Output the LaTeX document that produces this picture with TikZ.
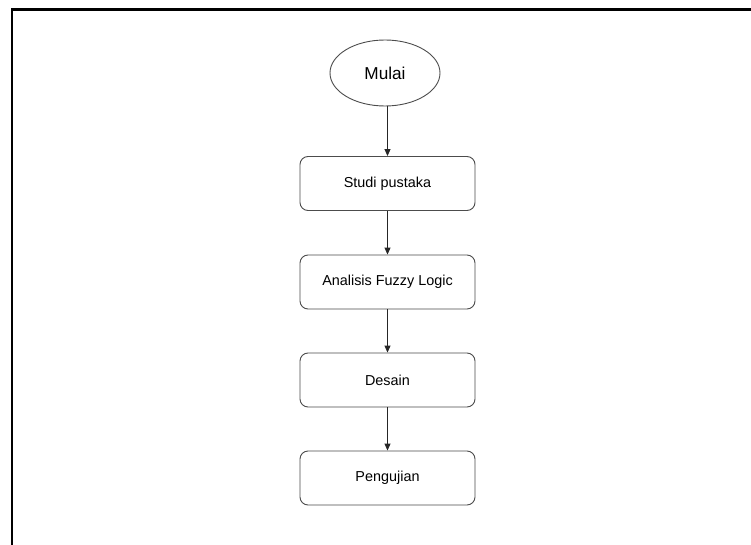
\documentclass[tikz,border=0pt]{standalone}
\usepackage{fontspec}
\setmainfont{Liberation Sans}
\usetikzlibrary{shapes.geometric,arrows.meta}
\begin{document}
\begin{tikzpicture}[x=1pt,y=-1pt,
  stepbox/.style={draw=black!70,line width=0.9pt,rounded corners=8pt,minimum width=175pt,minimum height=54pt,inner sep=0pt,font=\fontsize{14.4}{17}\selectfont},
  startnode/.style={draw=black!70,line width=0.9pt,ellipse,minimum width=110pt,minimum height=66pt,inner sep=0pt,font=\fontsize{17.2}{20}\selectfont},
  flow/.style={draw=black!85,line width=0.9pt,-{Triangle[length=7pt,width=6pt]}}]
\useasboundingbox (0,0) rectangle (751,545);
\fill[white] (0,0) rectangle (751,545);
\coordinate (ftop) at (751,9.5);
\coordinate (fcorner) at (11.8,9.5);
\coordinate (fbot) at (11.8,545);
\draw[line width=2.2pt] (ftop) -- (fcorner) -- (fbot);
\node[startnode] (mulai) at (385,73) {Mulai};
\node[stepbox] (studi) at (387.5,183.5) {Studi pustaka};
\node[stepbox] (analisis) at (387.5,282) {Analisis Fuzzy Logic};
\node[stepbox] (desain) at (387.5,380) {Desain};
\node[stepbox] (uji) at (387.5,478) {Pengujian};
\draw[flow] (mulai.south -| studi.north) -- (studi.north);
\draw[flow] (studi) -- (analisis);
\draw[flow] (analisis) -- (desain);
\draw[flow] (desain) -- (uji);
\end{tikzpicture}
\end{document}
